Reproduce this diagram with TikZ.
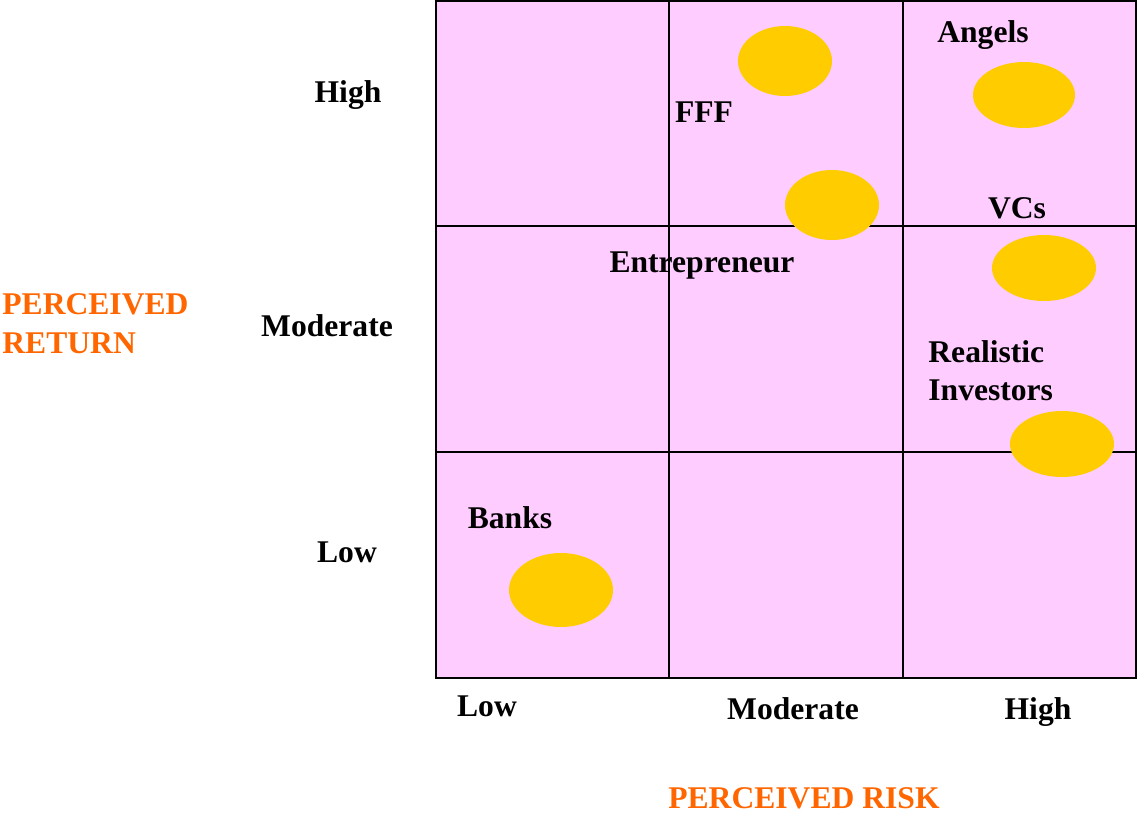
\documentclass[tikz,border=0pt]{standalone}
\usepackage{fontspec}
\setmainfont{Liberation Serif}
\begin{document}
\begin{tikzpicture}[x=0.5pt,y=-0.5pt,
  lbl/.style={font=\fontsize{15.8}{19}\selectfont\bfseries, inner sep=0pt, anchor=base},
  axis/.style={lbl, text=orangeT},
  blob/.style={fill=goldT, draw=none}]
\definecolor{pinkT}{HTML}{FFCCFF}
\definecolor{goldT}{HTML}{FFCC00}
\definecolor{orangeT}{HTML}{FF6600}
\useasboundingbox (0,0) rectangle (1137,814);
% grid
\fill[pinkT] (436,1) rectangle (1136,678);
\draw[line width=1pt] (669,1) -- (669,678);
\draw[line width=1pt] (903,1) -- (903,678);
\draw[line width=1pt] (436,226) -- (1136,226);
\draw[line width=1pt] (436,452) -- (1136,452);
\draw[line width=1.2pt] (436,1) rectangle (1136,678);
% ellipses
\fill[blob] (785,61) ellipse [x radius=47, y radius=35];
\fill[blob] (832,205) ellipse [x radius=47, y radius=35];
\fill[blob] (1024,95) ellipse [x radius=51, y radius=33];
\fill[blob] (1044,268) ellipse [x radius=52, y radius=33];
\fill[blob] (1062,444) ellipse [x radius=52, y radius=33];
\fill[blob] (561,590) ellipse [x radius=52, y radius=37];
% axis labels
\node[lbl] (yh) at (348,102) {High};
\node[lbl] (ym) at (327,336) {Moderate};
\node[lbl] (yl) at (347,562) {Low};
\node[axis, anchor=base west] (pr1) at (2,314) {PERCEIVED};
\node[axis, anchor=base west] (pr2) at (2,353) {RETURN};
\node[lbl] (xl) at (487,716) {Low};
\node[lbl] (xm) at (793,719) {Moderate};
\node[lbl] (xh) at (1038,719) {High};
\node[axis] (prisk) at (804,808) {PERCEIVED RISK};
% item labels
\node[lbl] (fff) at (704,122) {FFF};
\node[lbl] (angels) at (983,42) {Angels};
\node[lbl] (vcs) at (1017,218) {VCs};
\node[lbl] (ent) at (702,272) {Entrepreneur};
\node[lbl, anchor=base west] (real) at (928,362) {Realistic};
\node[lbl, anchor=base west] (inv) at (928,400) {Investors};
\node[lbl] (banks) at (510,528) {Banks};
\end{tikzpicture}
\end{document}
